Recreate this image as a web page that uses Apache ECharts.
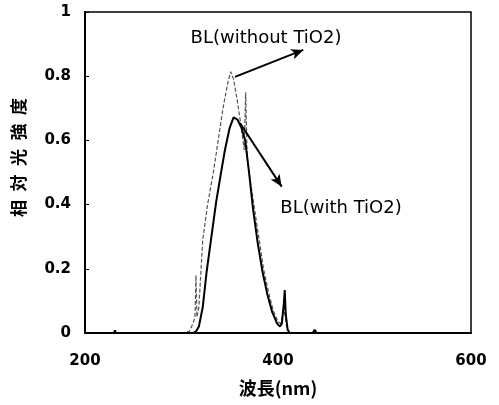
<!DOCTYPE html>
<html>
<head>
<meta charset="utf-8">
<script src="https://cdn.jsdelivr.net/npm/echarts@6/dist/echarts.min.js"></script>
<style>
html,body{margin:0;padding:0;background:#fff;}
#main{width:499px;height:405px;}
</style>
</head>
<body>
<div id="main"></div>
<script>
// 波長 (nm)
var wlWith = [200, 230, 231, 232, 300, 312, 315, 318, 322, 326, 331, 336, 341, 345, 350, 354, 358, 362, 366, 370, 374, 379, 384, 389, 394, 399, 402, 404, 406, 407, 408, 410, 412, 436, 438, 440, 600];
var valWith = [0, 0, 0.008, 0, 0, 0, 0.005, 0.02, 0.08, 0.19, 0.3, 0.41, 0.5, 0.57, 0.64, 0.672, 0.665, 0.64, 0.6, 0.5, 0.39, 0.28, 0.19, 0.12, 0.065, 0.03, 0.02, 0.03, 0.09, 0.134, 0.06, 0.01, 0, 0, 0.01, 0, 0];

var wlWithout = [200, 300, 308, 312, 314, 315, 316, 318, 322, 327, 333, 338, 343, 348, 351, 354, 358, 362, 365, 366.5, 368, 371, 375, 380, 385, 390, 395, 400, 403, 406, 409, 412, 600];
var valWithout = [0, 0, 0.005, 0.03, 0.05, 0.18, 0.05, 0.08, 0.29, 0.4, 0.5, 0.6, 0.7, 0.78, 0.814, 0.79, 0.72, 0.64, 0.57, 0.75, 0.55, 0.48, 0.4, 0.3, 0.2, 0.13, 0.07, 0.035, 0.03, 0.08, 0.02, 0, 0];

// 注釈 (矢印と文字)
var arrowWithout = [[355.4, 0.798], [426.2, 0.882]];
var arrowWith = [[360.6, 0.654], [403.8, 0.456]];
var labelWithout = {text: 'BL(without TiO2)', at: [387.6, 0.919]};
var labelWith = {text: 'BL(with TiO2)', at: [465.3, 0.389]};

function pairs(xs, ys) {
    var out = [];
    for (var i = 0; i < xs.length; i++) out.push([xs[i], ys[i]]);
    return out;
}

var font = "'Noto Sans CJK JP', sans-serif";
var latin = "'DejaVu Sans', sans-serif";
var chart = echarts.init(document.getElementById('main'));

var option = {
    backgroundColor: '#fff',
    animation: false,
    grid: {
        left: 85, right: 28, top: 12, bottom: 72,
        show: true, borderColor: '#000', borderWidth: 1.5
    },
    xAxis: {
        type: 'value',
        min: 200, max: 600, interval: 200,
        name: '波長(nm)',
        nameLocation: 'middle',
        nameGap: 46,
        nameTextStyle: {fontFamily: font, fontSize: 18, fontWeight: 'bold', color: '#000'},
        axisLine: {lineStyle: {color: '#000', width: 2}},
        axisTick: {show: false},
        axisLabel: {fontFamily: latin, fontSize: 15, fontWeight: 'bold', color: '#000', margin: 21},
        splitLine: {show: false}
    },
    yAxis: {
        type: 'value',
        min: 0, max: 1, interval: 0.2,
        name: '相\u2002対\u2002光\u2002強\u2002度',
        nameLocation: 'middle',
        nameGap: 58,
        nameTextStyle: {fontFamily: font, fontSize: 17, fontWeight: 'bold', color: '#000', padding: [0, 0, 0, 30]},
        axisLine: {lineStyle: {color: '#000', width: 2}},
        axisTick: {show: true, inside: true, length: 4, lineStyle: {color: '#000'}},
        axisLabel: {fontFamily: latin, fontSize: 15, fontWeight: 'bold', color: '#000', margin: 14},
        splitLine: {show: false}
    },
    series: [
        {
            name: 'BL(without TiO2)',
            type: 'line',
            data: pairs(wlWithout, valWithout),
            symbol: 'none',
            lineStyle: {color: '#555', width: 1.2, type: [4, 2]},
            z: 2
        },
        {
            name: 'BL(with TiO2)',
            type: 'line',
            data: pairs(wlWith, valWith),
            symbol: 'none',
            lineStyle: {color: '#000', width: 2},
            z: 3,
            markLine: {
                silent: true,
                symbol: ['none', 'arrow'],
                symbolSize: [8, 12],
                lineStyle: {color: '#000', width: 2, type: 'solid'},
                label: {show: false},
                data: [
                    [{coord: arrowWithout[0]}, {coord: arrowWithout[1]}],
                    [{coord: arrowWith[0]}, {coord: arrowWith[1]}]
                ]
            },
            markPoint: {
                silent: true,
                symbol: 'circle',
                symbolSize: 0,
                label: {
                    show: true,
                    position: 'inside',
                    fontFamily: latin,
                    fontSize: 18,
                    color: '#000',
                    formatter: function (p) { return p.name; }
                },
                data: [
                    {name: labelWithout.text, coord: labelWithout.at},
                    {name: labelWith.text, coord: labelWith.at}
                ]
            }
        }
    ]
};
chart.setOption(option);
</script>
</body>
</html>
